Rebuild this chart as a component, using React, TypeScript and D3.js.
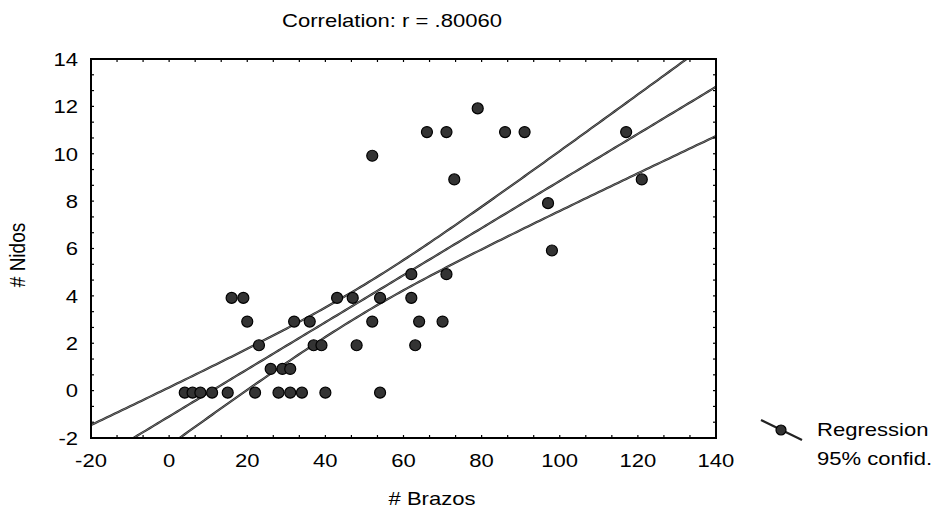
import React from 'react';
import * as d3 from 'd3';

// # Brazos (x) and # Nidos (y)
const brazos = [
  4, 6, 8, 11, 15, 22, 28, 31, 34, 40, 54,
  26, 29, 31,
  23, 37, 39, 48, 63,
  20, 32, 36, 52, 64, 70,
  16, 19, 43, 47, 54, 62,
  62, 71,
  98,
  97,
  73, 121,
  52,
  66, 71, 86, 91, 117,
  79,
];
const nidos = [
  0, 0, 0, 0, 0, 0, 0, 0, 0, 0, 0,
  1, 1, 1,
  2, 2, 2, 2, 2,
  3, 3, 3, 3, 3, 3,
  4, 4, 4, 4, 4, 4,
  5, 5,
  6,
  8,
  9, 9,
  10,
  11, 11, 11, 11, 11,
  12,
];

const xTicks = [-20, 0, 20, 40, 60, 80, 100, 120, 140];
const yTicks = [-2, 0, 2, 4, 6, 8, 10, 12, 14];
const legendLabels = ['Regression', '95% confid.'];

// fitted line and 95% band as drawn
const regIntercept = -1.09;
const regSlope = 0.0994;
const bandCenterX = 49;
const bandMin2 = 0.35;
const bandSpread = 0.00048;

const W = 936;
const H = 517;
const left = 91, right = 716, top = 59, bottom = 438;
const FS = 19;
const STRETCH = 1.16; // the scan is a bit wide

const fit = (v: number) => regIntercept + regSlope * v;
const half = (v: number) => Math.sqrt(bandMin2 + bandSpread * (v - bandCenterX) ** 2);

const T = ({ x, y, anchor = 'start', rotate = 0, dy, children }: any) => (
  <text
    transform={`translate(${x},${y}) scale(${STRETCH},1)${rotate ? ` rotate(${rotate})` : ''}`}
    textAnchor={anchor}
    dy={dy}
    fontSize={FS}
  >
    {children}
  </text>
);

export default function App() {
  const x = d3.scaleLinear().domain([-20, 140]).range([left, right]);
  const y = d3.scaleLinear().domain([-2, 14]).range([bottom, top]);
  const font = '"Liberation Sans", Arial, sans-serif';

  const xs = d3.range(-20, 140.01, 1);
  const mk = (f: (v: number) => number) => d3.line<number>().x(v => x(v)).y(v => y(f(v)))(xs) || '';
  const center = mk(fit);
  const upper = mk(v => fit(v) + half(v));
  const lower = mk(v => fit(v) - half(v));

  const xMinor = d3.range(-20, 140.01, 20 / 3);
  const yMinor = d3.range(-2, 14.01, 2 / 3);
  const tk = 3;

  return (
    <svg width={W} height={H} style={{ position: 'absolute', left: 0, top: 0, background: '#fff' }}
      fontFamily={font}>
      <defs>
        <clipPath id="plot">
          <rect x={left} y={top} width={right - left} height={bottom - top} />
        </clipPath>
      </defs>

      <T x={392} y={27} anchor="middle">Correlation: r = .80060</T>

      <g clipPath="url(#plot)">
        {[upper, center, lower].map((d, i) => (
          <g key={i}>
            <path d={d} fill="none" stroke="#222" strokeWidth={2.2} />
            <path d={d} fill="none" stroke="#aaa" strokeWidth={0.6} />
          </g>
        ))}
        {brazos.map((b, i) => (
          <circle key={i} cx={x(b)} cy={y(nidos[i]) + 2} r={5.5} fill="#333" stroke="#000" strokeWidth={1.2} />
        ))}
      </g>

      {/* minor ticks, inward, all four sides */}
      <g stroke="#000" strokeWidth={1.2}>
        {xMinor.map((v, i) => (
          <g key={'x' + i}>
            <line x1={x(v)} x2={x(v)} y1={bottom} y2={bottom - tk} />
            <line x1={x(v)} x2={x(v)} y1={top} y2={top + tk} />
          </g>
        ))}
        {yMinor.map((v, i) => (
          <g key={'y' + i}>
            <line x1={left} x2={left + tk} y1={y(v)} y2={y(v)} />
            <line x1={right} x2={right - tk} y1={y(v)} y2={y(v)} />
          </g>
        ))}
      </g>
      <rect x={left} y={top} width={right - left} height={bottom - top} fill="none" stroke="#000" strokeWidth={2} />

      {xTicks.map(v => (
        <T key={v} x={x(v)} y={467} anchor="middle">{v}</T>
      ))}
      {yTicks.map(v => (
        <T key={v} x={78} y={y(v)} dy="0.36em" anchor="end">{v}</T>
      ))}

      <T x={432} y={505} anchor="middle"># Brazos</T>
      <T x={25} y={255} anchor="middle" rotate={-90}># Nidos</T>

      {/* legend */}
      <line x1={761} y1={420} x2={802} y2={440} stroke="#222" strokeWidth={2.2} />
      <circle cx={781} cy={430} r={5} fill="#333" stroke="#000" strokeWidth={1.2} />
      {legendLabels.map((l, i) => (
        <T key={l} x={817} y={436 + i * 29}>{l}</T>
      ))}
    </svg>
  );
}
